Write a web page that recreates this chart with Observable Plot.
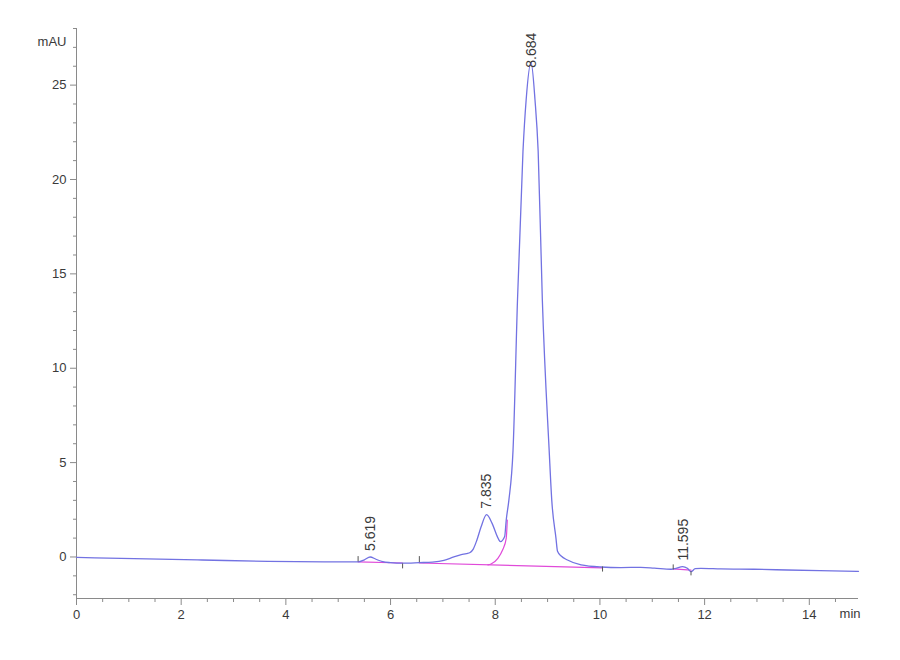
<!DOCTYPE html>
<html><head><meta charset="utf-8">
<script src="https://cdn.jsdelivr.net/npm/d3@7"></script>
<script src="https://cdn.jsdelivr.net/npm/@observablehq/plot@0.6"></script>
<style>
body{margin:0;background:#fff;}
#chart svg{display:block;}
</style></head><body><div id="chart"></div>
<script>
// Chromatogram trace (blue): retention time (min) and signal (mAU)
const traceTime = [0, 1.1, 2.4, 3.66, 4.93, 5.38, 5.5, 5.61, 5.72, 5.85, 6.0, 6.23, 6.55, 6.8, 7.02, 7.21, 7.35, 7.45, 7.52, 7.58, 7.65, 7.73, 7.835, 7.94, 8.04, 8.1, 8.18, 8.21, 8.26, 8.34, 8.425, 8.53, 8.59, 8.684, 8.76, 8.82, 8.90, 9.03, 9.08, 9.16, 9.19, 9.26, 9.38, 9.64, 10.02, 10.4, 10.78, 11.04, 11.36, 11.45, 11.58, 11.67, 11.74, 11.82, 11.93, 12.31, 12.94, 13.58, 14.2, 14.94];
const traceSignal = [-0.02, -0.09, -0.16, -0.23, -0.26, -0.26, -0.15, 0.0, -0.12, -0.25, -0.3, -0.33, -0.3, -0.27, -0.18, 0.0, 0.12, 0.18, 0.24, 0.42, 0.9, 1.6, 2.24, 1.78, 1.08, 0.81, 1.08, 1.96, 3.0, 5.66, 13.6, 21.5, 24.2, 26.2, 24.2, 21.5, 13.6, 5.66, 3.0, 1.0, 0.3, 0.05, -0.16, -0.42, -0.53, -0.56, -0.55, -0.59, -0.65, -0.6, -0.51, -0.6, -0.78, -0.62, -0.6, -0.63, -0.65, -0.69, -0.72, -0.76];

// Integration baselines (magenta)
const baselineTime   = [5.38, 6.23, 6.55, 10.05, 11.4, 11.74];
const baselineSignal = [-0.26, -0.32, -0.32, -0.58, -0.63, -0.70];
const baselineGroup  = [1, 1, 2, 2, 3, 3];
const dropTime   = [7.86, 7.92, 8.05, 8.14, 8.21, 8.23];
const dropSignal = [-0.42, -0.37, -0.07, 0.37, 0.99, 1.96];

// Peaks
const peakTimes   = [5.619, 7.835, 8.684, 11.595];
const peakHeights = [0.0, 2.24, 26.2, -0.51];
const peakLabels  = ["5.619", "7.835", "8.684", "11.595"];

// Peak start / end markers
const markerTime = [5.38, 6.23, 6.55, 10.05, 11.4, 11.74];
const markerFrom = [-0.26, -0.37, -0.3, -0.53, -0.42, -0.78];
const markerTo   = [0.02, -0.63, 0.02, -0.80, -0.69, -1.0];

// Axes
const xMajorTicks = [0, 2, 4, 6, 8, 10, 12, 14];
const xMinorTicks = [0.5, 1, 1.5, 2.5, 3, 3.5, 4.5, 5, 5.5, 6.5, 7, 7.5, 8.5, 9, 9.5, 10.5, 11, 11.5, 12.5, 13, 13.5, 14.5];
const yMajorTicks = [0, 5, 10, 15, 20, 25];
const yMinorTicks = [-2, -1, 1, 2, 3, 4, 6, 7, 8, 9, 11, 12, 13, 14, 16, 17, 18, 19, 21, 22, 23, 24, 26, 27, 28];
const xDomain = [0, 14.94];
const yDomain = [-2.2, 28];

const trace = traceTime.map((t, i) => ({t, v: traceSignal[i]}));
const baseline = baselineTime.map((t, i) => ({t, v: baselineSignal[i], g: baselineGroup[i]}));
const drop = dropTime.map((t, i) => ({t, v: dropSignal[i]}));
const peaks = peakTimes.map((t, i) => ({t, h: peakHeights[i], label: peakLabels[i]}));
const markers = markerTime.map((t, i) => ({t, a: markerFrom[i], b: markerTo[i]}));

const blue = "#7272e2", magenta = "#e04ad9", axisColor = "#8a8a8a", textColor = "#3a3a3a";
const tickFont = "'Liberation Sans', Arial, sans-serif";

const chart = Plot.plot({
  width: 900, height: 660,
  marginLeft: 76, marginRight: 42, marginTop: 28, marginBottom: 62,
  style: {fontFamily: tickFont, background: "#fff", color: textColor},
  x: {domain: xDomain},
  y: {domain: yDomain},
  marks: [
    Plot.ruleX([xDomain[0]], {y1: yDomain[0], y2: yDomain[1], stroke: axisColor}),
    Plot.ruleY([yDomain[0]], {x1: xDomain[0], x2: xDomain[1], stroke: axisColor}),
    Plot.axisY(yMajorTicks, {tickSize: 6, tickPadding: 4, fontSize: 13, stroke: axisColor, fill: textColor, label: null}),
    Plot.axisY(yMinorTicks, {tickSize: 3, tickFormat: () => "", stroke: axisColor, label: null}),
    Plot.axisX(xMajorTicks, {tickSize: 7, tickPadding: 4, fontSize: 13, stroke: axisColor, fill: textColor, label: null}),
    Plot.axisX(xMinorTicks, {tickSize: 4, tickFormat: () => "", stroke: axisColor, label: null}),
    Plot.text(["mAU"], {frameAnchor: "top-left", dx: -10, dy: 8, textAnchor: "end", fontSize: 13, fill: textColor}),
    Plot.text(["min"], {frameAnchor: "bottom-right", dx: 2, dy: 19, textAnchor: "end", fontSize: 13, fill: textColor}),
    Plot.line(baseline, {x: "t", y: "v", z: "g", stroke: magenta, strokeWidth: 1.2}),
    Plot.line(drop, {x: "t", y: "v", stroke: magenta, strokeWidth: 1.2, curve: "monotone-x"}),
    Plot.line(trace, {x: "t", y: "v", stroke: blue, strokeWidth: 1.3, curve: "monotone-x"}),
    Plot.ruleX(markers, {x: "t", y1: "a", y2: "b", stroke: "#555", strokeWidth: 1}),
    Plot.text(peaks, {x: "t", y: d => Math.min(d.h, 25.6), text: "label", rotate: -90, textAnchor: "start", dy: -6,
      fontSize: 14, fontFamily: "'Liberation Sans', Arial, sans-serif", fill: textColor})
  ]
});
document.getElementById("chart").appendChild(chart);
</script>
</body></html>
